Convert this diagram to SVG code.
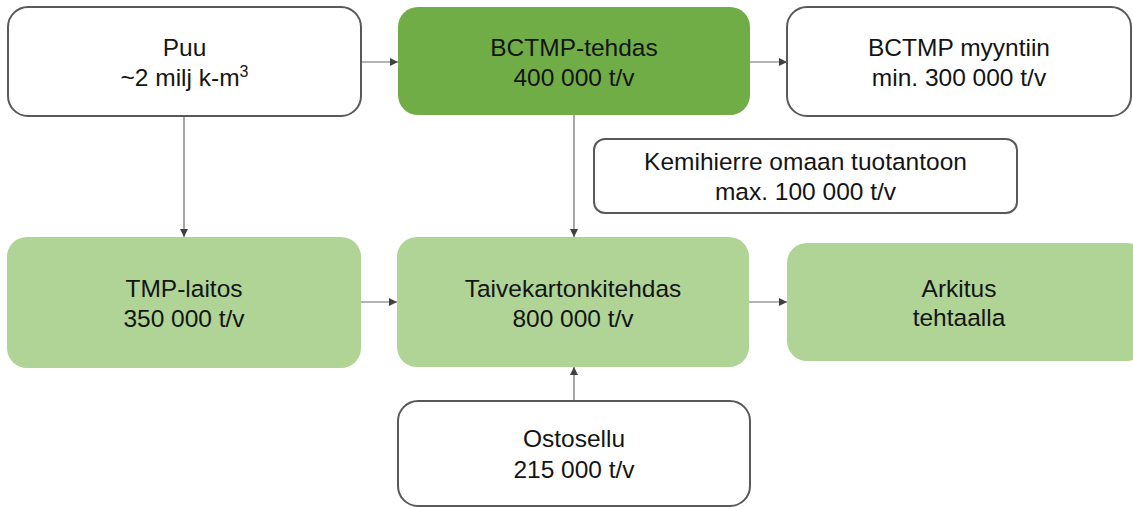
<svg xmlns="http://www.w3.org/2000/svg" width="1133" height="507" viewBox="0 0 1133 507">
  <defs>
    <marker id="arrow" viewBox="0 0 10 10" refX="10" refY="5" markerWidth="8" markerHeight="8" markerUnits="userSpaceOnUse" orient="auto">
      <path d="M0,0 L10,5 L0,10 z" fill="#404040"/>
    </marker>
    <style>
      .outline { fill: #ffffff; stroke: #595959; stroke-width: 2; }
      .dark { fill: #70ad47; }
      .light { fill: #afd496; }
      .label { font-family: "Liberation Sans", Arial, sans-serif; font-size: 24.5px; fill: #141414; text-anchor: middle; }
      .link { stroke: #6b6b6b; stroke-width: 1.2; fill: none; marker-end: url(#arrow); }
    </style>
  </defs>
  <rect width="1133" height="507" fill="#ffffff"/>

  <g id="connectors">
    <line class="link" x1="362" y1="62" x2="398" y2="62"/>
    <line class="link" x1="750" y1="62" x2="787" y2="62"/>
    <line class="link" x1="184" y1="117" x2="184" y2="237"/>
    <line class="link" x1="574" y1="115" x2="574" y2="237"/>
    <line class="link" x1="361" y1="302" x2="397" y2="302"/>
    <line class="link" x1="749" y1="302" x2="787" y2="302"/>
    <line class="link" x1="574" y1="400" x2="574" y2="367"/>
  </g>

  <g id="puu">
    <rect class="outline" x="8" y="7" width="353" height="109" rx="20"/>
    <text class="label" x="184.5" y="56">Puu</text>
    <text class="label" x="184.5" y="86">~2 milj k-m<tspan dy="-9" font-size="16">3</tspan></text>
  </g>

  <g id="bctmp-tehdas">
    <rect class="dark" x="398" y="7" width="352" height="108" rx="20"/>
    <text class="label" x="574" y="56">BCTMP-tehdas</text>
    <text class="label" x="574" y="86">400 000 t/v</text>
  </g>

  <g id="bctmp-myyntiin">
    <rect class="outline" x="787" y="7" width="344" height="109" rx="20"/>
    <text class="label" x="959" y="56">BCTMP myyntiin</text>
    <text class="label" x="959" y="86">min. 300 000 t/v</text>
  </g>

  <g id="kemihierre">
    <rect class="outline" x="594" y="139" width="423" height="74" rx="11"/>
    <text class="label" x="805.5" y="170">Kemihierre omaan tuotantoon</text>
    <text class="label" x="805.5" y="200">max. 100 000 t/v</text>
  </g>

  <g id="tmp-laitos">
    <rect class="light" x="7" y="237" width="354" height="131" rx="20"/>
    <text class="label" x="184" y="297">TMP-laitos</text>
    <text class="label" x="184" y="327">350 000 t/v</text>
  </g>

  <g id="taivekartonkitehdas">
    <rect class="light" x="397" y="237" width="352" height="130" rx="20"/>
    <text class="label" x="573" y="297">Taivekartonkitehdas</text>
    <text class="label" x="573" y="327">800 000 t/v</text>
  </g>

  <g id="arkitus">
    <rect class="light" x="787" y="243" width="360" height="118" rx="20"/>
    <text class="label" x="959" y="297">Arkitus</text>
    <text class="label" x="959" y="326">tehtaalla</text>
  </g>

  <g id="ostosellu">
    <rect class="outline" x="398" y="401" width="352" height="105" rx="20"/>
    <text class="label" x="574" y="447">Ostosellu</text>
    <text class="label" x="574" y="478">215 000 t/v</text>
  </g>
</svg>
